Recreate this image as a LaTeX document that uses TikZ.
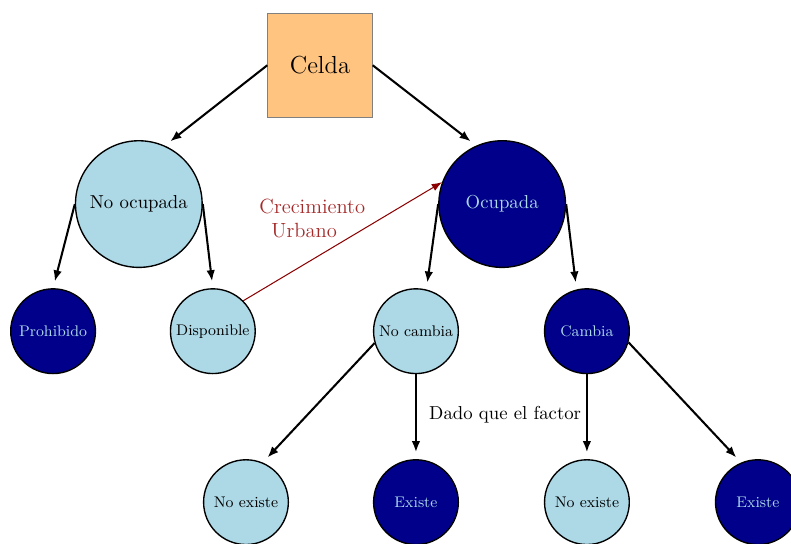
\documentclass[tikz,border=0pt,11pt]{standalone}
\usepackage{tikz}
\usetikzlibrary{shapes.geometric, arrows, arrows.meta}
\definecolor{naranja}{RGB}{255,196,128}
\definecolor{azulclaro}{RGB}{173,216,230}
\definecolor{azulmarino}{RGB}{0,0,139}
\definecolor{rojo}{RGB}{139,0,0}
\definecolor{rojotxt}{RGB}{165,42,42}
\tikzset{
  celda/.style={
    rectangle,
    draw=gray,
    fill=naranja,
    minimum size=2.15cm,
    font=\Large
  },
  libre/.style={circle, draw=black, thick, fill=azulclaro, text=black},
  ocupado/.style={circle, draw=black, thick, fill=azulmarino, text=azulclaro},
  grande/.style={minimum size=2.6cm},
  chico/.style={minimum size=1.74cm, inner sep=0pt, font=\footnotesize}
}
\tikzstyle{arrow} = [-{Latex[length=6.5pt, width=5pt]}, very thick, shorten >= 4pt]
\tikzstyle{urbano} = [-{Latex[length=6pt, width=4.5pt]}, semithick, draw=rojo]

\begin{document}
\begin{tikzpicture}
    \useasboundingbox (0, 0) rectangle (16.24, 11.15);
    \node[celda] (c0) at (6.57, 9.81) {Celda};
    \node[libre, grande] (c1) at (2.85, 6.96) {No ocupada};
    \node[ocupado, grande] (c2) at (10.31, 6.96) {Ocupada};
    \node[ocupado, chico] (c3) at (1.09, 4.35) {Prohibido};
    \node[libre, chico] (c4) at (4.37, 4.35) {Disponible};
    \node[libre, chico] (c5) at (8.54, 4.35) {No cambia};
    \node[ocupado, chico] (c6) at (12.05, 4.35) {Cambia};
    \node[libre, chico] (c7) at (5.05, 0.84) {No existe};
    \node[ocupado, chico] (c8) at (8.54, 0.84) {Existe};
    \node[libre, chico] (c9) at (12.05, 0.84) {No existe};
    \node[ocupado, chico] (c10) at (15.56, 0.84) {Existe};
    \draw[arrow] (c0.west) -- (c1.66);
    \draw[arrow] (c0.east) -- (c2.114);
    \draw[arrow] (c1.west) -- (c3.north);
    \draw[arrow] (c1.east) -- (c4.north);
    \draw[arrow] (c2.west) -- (c5.76);
    \draw[arrow] (c2.east) -- (c6.104);
    \draw[urbano] (c4.north east) to node [pos=0.69, anchor=east, xshift=-5pt, font=\large, text=rojotxt, align=left] {Crecimiento\\\hspace{7pt}Urbano} (c2.160);
    \draw[arrow] (c5.196) -- (c7.67);
    \draw[arrow] (c5.south) to node [right, xshift=3.5pt, yshift=1pt] {Dado que el factor} (c8.north);
    \draw[arrow] (c6.south) -- (c9.north);
    \draw[arrow] (c6.-15) -- (c10.113);
    \end{tikzpicture}
\end{document}
